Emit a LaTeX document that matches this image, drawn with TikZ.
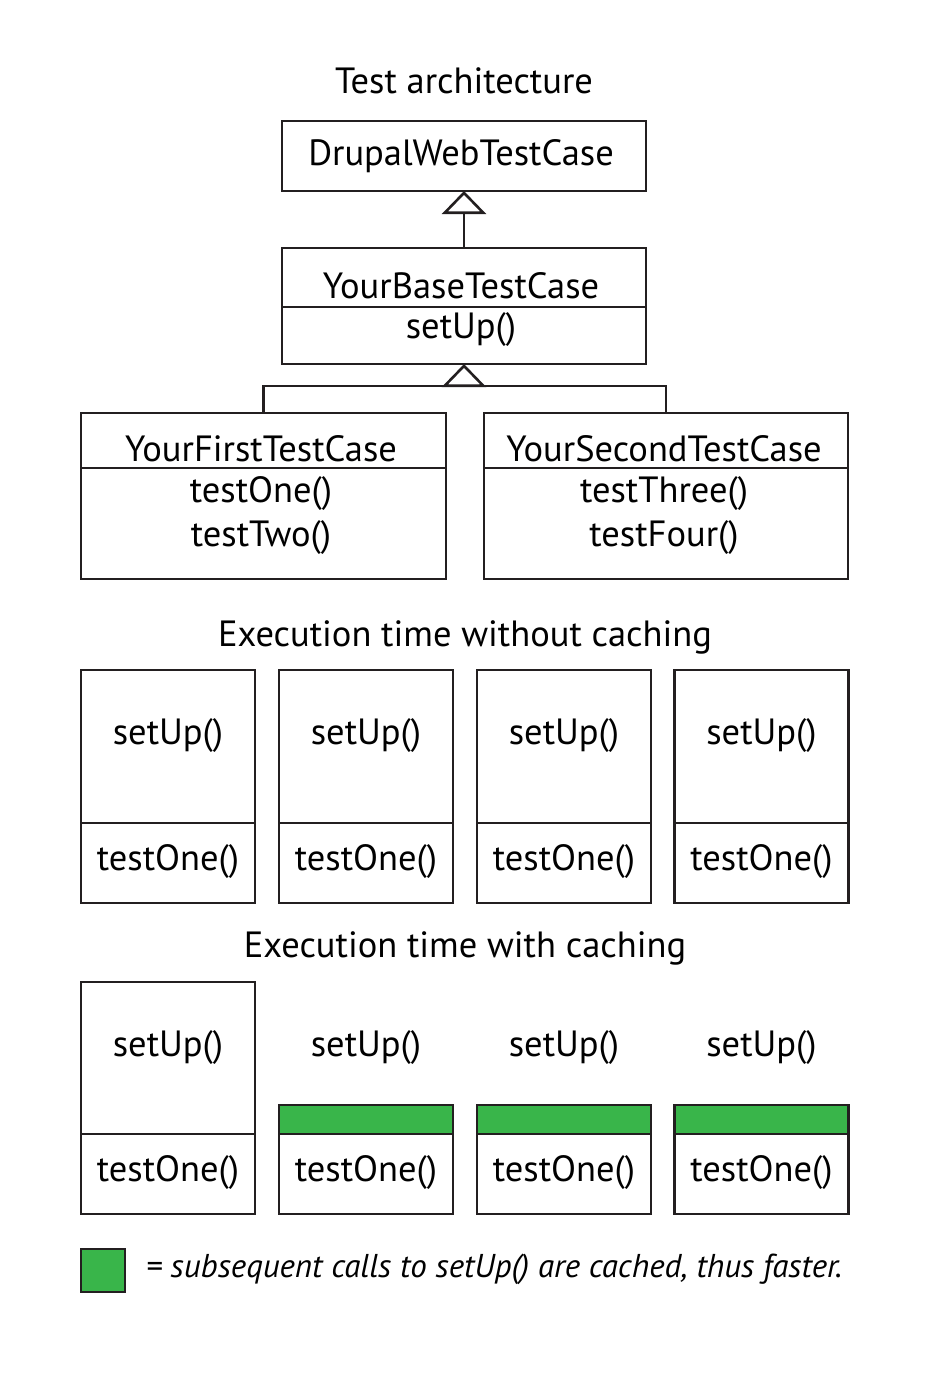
\documentclass[tikz,border=0pt]{standalone}
\usepackage{fontspec}
\setmainfont{PT Sans}
\usetikzlibrary{arrows.meta,calc}
\definecolor{ink}{HTML}{231F20}
\definecolor{cachegreen}{HTML}{39B54A}
\begin{document}
\begin{tikzpicture}[x=1pt,y=-1pt,
  line width=2.6pt,
  every node/.style={inner sep=0pt,outer sep=0pt,text=black},
  box/.style={draw=ink,line width=2.6pt,rectangle},
  lbl/.style={font=\fontsize{36.5}{40}\selectfont},
  ttl/.style={font=\fontsize{36.5}{40}\selectfont},
  inherit/.style={draw=ink,-{Triangle[open,length=23pt,width=44pt,line width=2.6pt]}},
  cached/.style={fill=cachegreen,draw=ink,line width=2.6pt}
]
\useasboundingbox (0,0) rectangle (932,1376);
% title
\node[ttl] (t1) at (464,81) {Test architecture};
% Drupal
\node[box,minimum width=364pt,minimum height=70pt] (drupal) at (464,156) {};
\node[lbl] (drupaltxt) at (461,156) {DrupalWebTestCase};
% Base
\node[box,minimum width=364pt,minimum height=116pt] (base) at (464,306) {};
\draw[ink] (base.west |- 0,307) -- (base.east |- 0,307);
\node[lbl] (basetxt) at (461,286) {YourBaseTestCase};
\node[lbl] (basesetup) at (461,330) {setUp()};
\draw[inherit] (base.north) -- (drupal.south);
% First & second
\node[box,minimum width=365pt,minimum height=166pt] (first) at (263.5,496) {};
\node[box,minimum width=364pt,minimum height=166pt] (second) at (666,496) {};
\draw[ink] (first.west |- 0,468) -- (first.east |- 0,468);
\draw[ink] (second.west |- 0,468) -- (second.east |- 0,468);
\node[lbl] (firsttxt) at (261,449) {YourFirstTestCase};
\node[lbl] (firstm1) at (261,494) {testOne()};
\node[lbl] (firstm2) at (261,538) {testTwo()};
\node[lbl] (secondtxt) at (664,449) {YourSecondTestCase};
\node[lbl] (secondm1) at (664,494) {testThree()};
\node[lbl] (secondm2) at (664,538) {testFour()};
\coordinate (j) at ($(base.south)+(0,22)$);
\draw[ink,line join=miter] (first.north) |- (j) -| (second.north);
\draw[inherit] (j) -- (base.south);
% Without caching
\node[ttl] (t2) at (465,637) {Execution time without caching};
\foreach \i/\cx in {1/168,2/366,3/564,4/761.5}{
  \node[box,minimum width=174pt,minimum height=233pt] (nc\i) at (\cx,786.5) {};
  \draw[ink] (nc\i.west |- 0,823) -- (nc\i.east |- 0,823);
  \node[lbl] (ncs\i) at (\cx,736) {setUp()};
  \node[lbl] (nct\i) at (\cx,862) {testOne()};
}
% With caching
\node[ttl] (t3) at (465,948) {Execution time with caching};
\node[box,minimum width=174pt,minimum height=232pt] (wc1) at (168,1098) {};
\draw[ink] (wc1.west |- 0,1134) -- (wc1.east |- 0,1134);
\node[lbl] (wcs1) at (168,1048) {setUp()};
\node[lbl] (wct1) at (168,1173) {testOne()};
\foreach \i/\cx in {2/366,3/564,4/761.5}{
  \node[cached,minimum width=174pt,minimum height=29pt] (wg\i) at (\cx,1119.5) {};
  \node[box,minimum width=174pt,minimum height=80pt] (wc\i) at (\cx,1174) {};
  \node[lbl] (wcs\i) at (\cx,1048) {setUp()};
  \node[lbl] (wct\i) at (\cx,1173) {testOne()};
}
% legend
\node[cached,minimum width=44pt,minimum height=43pt] (leg) at (103,1270.5) {};
\node[anchor=west,font=\fontsize{33}{36}\selectfont\itshape] (legtxt) at (146,1269) {= subsequent calls to setUp() are cached, thus faster.};
\end{tikzpicture}
\end{document}
